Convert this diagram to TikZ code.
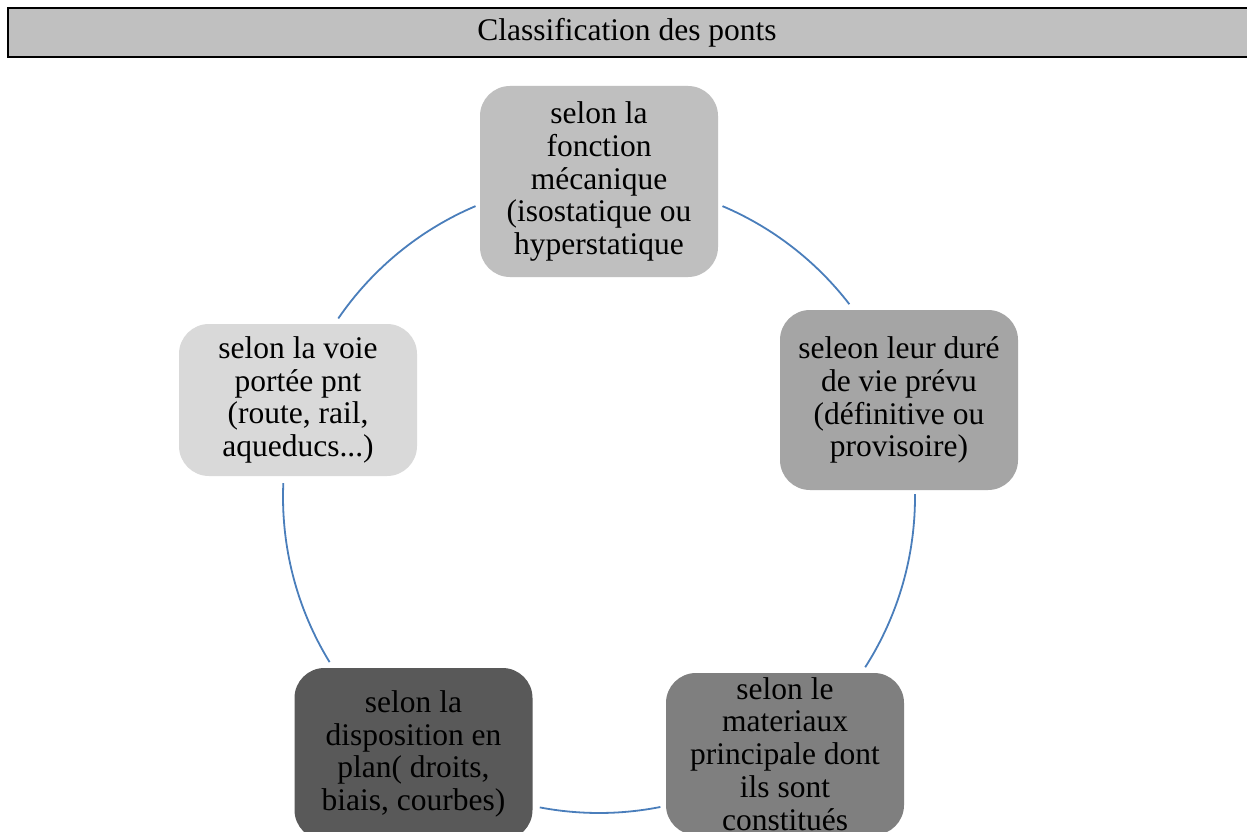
\documentclass[tikz,border=0pt]{standalone}
\usepackage{fontspec}
\setmainfont{Liberation Serif}
\definecolor{hdr}{HTML}{C0C0C0}
\definecolor{cA}{HTML}{BFBFBF}
\definecolor{cB}{HTML}{A5A5A5}
\definecolor{cC}{HTML}{7F7F7F}
\definecolor{cD}{HTML}{595959}
\definecolor{cE}{HTML}{D9D9D9}
\definecolor{arcblue}{HTML}{4A7EBB}
\tikzset{
  cyclebox/.style={rounded corners=30pt, minimum width=238pt, align=center, inner sep=0pt,
    font=\fontsize{31.5}{32.8}\selectfont, text=black},
  cyclearc/.style={draw=arcblue, line width=1.8pt},
  header/.style={draw=black, line width=2pt, fill=hdr}
}
\begin{document}
\begin{tikzpicture}[x=1pt,y=-1pt]
\useasboundingbox (0,0) rectangle (1247,832);
\clip (0,0) rectangle (1247,832);
\fill[white] (0,0) rectangle (1247,832);
% header
\draw[header] (8,8.5) rectangle (1262,57);
\node[font=\fontsize{31.5}{34}\selectfont] (title) at (627,33) {Classification des ponts};
% center of cycle
\coordinate (ctr) at (599,497);
% boxes
\node[cyclebox, fill=cA, minimum height=191pt] (top) at (599,181.5)
  {selon la\\fonction\\mécanique\\(isostatique ou\\hyperstatique};
\node[cyclebox, fill=cB, minimum height=180pt] (right) at (899,400)
  {seleon leur duré\\de vie prévu\\(définitive ou\\provisoire)};
\node[cyclebox, fill=cC, minimum height=162pt] (bright) at (785,754)
  {selon le\\materiaux\\principale dont\\ils sont\\constitués};
\node[cyclebox, fill=cD, minimum height=172pt] (bleft) at (413.5,754)
  {selon la\\disposition en\\plan( droits,\\biais, courbes)};
\node[cyclebox, fill=cE, minimum height=152pt] (left) at (298,400)
  {selon la voie\\portée pnt\\(route, rail,\\aqueducs...)};
% arcs
\draw[cyclearc] (ctr) ++(-67:316) arc[start angle=-67, end angle=-37.6, radius=316];
\draw[cyclearc] (ctr) ++(-0.5:316) arc[start angle=-0.5, end angle=32.6, radius=316];
\draw[cyclearc] (ctr) ++(78.8:316) arc[start angle=78.8, end angle=100.8, radius=316];
\draw[cyclearc] (ctr) ++(148.5:316) arc[start angle=148.5, end angle=182.5, radius=316];
\draw[cyclearc] (ctr) ++(214.4:316) arc[start angle=214.4, end angle=247, radius=316];
\end{tikzpicture}
\end{document}
